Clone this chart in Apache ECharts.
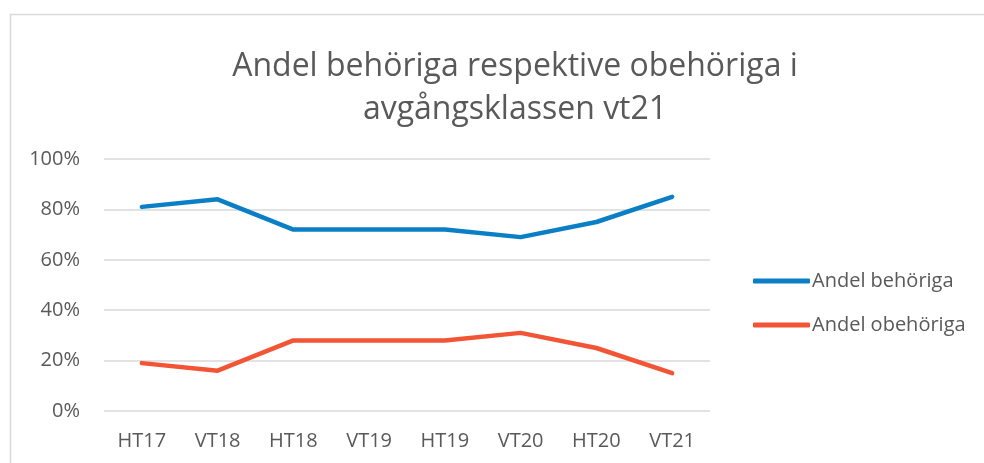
<!DOCTYPE html>
<html>
<head>
<meta charset="utf-8">
<script src="https://cdn.jsdelivr.net/npm/echarts@6/dist/echarts.min.js"></script>
<style>
  html, body { margin: 0; padding: 0; background: #fff; }
  #chart { width: 984px; height: 463px; }
</style>
</head>
<body>
<div id="chart"></div>
<script>
// terminer
const categories = ['HT17', 'VT18', 'HT18', 'VT19', 'HT19', 'VT20', 'HT20', 'VT21'];
// andelar i procent
const behoriga = [81, 84, 72, 72, 72, 69, 75, 85];
const obehoriga = [19, 16, 28, 28, 28, 31, 25, 15];
const yTicks = [0, 20, 40, 60, 80, 100];

const textColor = '#595959';
const fontName = 'Open Sans';

const chart = echarts.init(document.getElementById('chart'));
chart.setOption({
  animation: false,
  title: {
    text: 'Andel behöriga respektive obehöriga i\navgångsklassen vt21',
    left: 510,
    top: 40,
    textAlign: 'center',
    textStyle: {
      color: textColor,
      fontFamily: fontName,
      fontWeight: 'normal',
      fontSize: 32,
      lineHeight: 43,
    },
  },
  // ram runt diagrammet
  graphic: [
    {
      type: 'rect',
      shape: { x: 10.5, y: 14.5, width: 1000, height: 500 },
      style: { fill: 'none', stroke: '#d9d9d9', lineWidth: 1.5 },
      silent: true,
    },
  ],
  legend: {
    orient: 'vertical',
    left: 748,
    top: 266,
    itemWidth: 57,
    itemHeight: 5,
    itemGap: 24,
    icon: 'roundRect',
    textStyle: {
      color: textColor,
      fontFamily: fontName,
      fontSize: 20,
      padding: [0, 0, 0, -3],
    },
    data: ['Andel behöriga', 'Andel obehöriga'],
  },
  grid: {
    left: 104,
    right: 274,
    top: 159,
    bottom: 52,
    containLabel: false,
  },
  xAxis: {
    type: 'category',
    data: categories,
    boundaryGap: true,
    axisLine: { show: false },
    axisTick: { show: false },
    axisLabel: {
      color: textColor,
      fontFamily: fontName,
      fontSize: 20,
      margin: 20,
    },
  },
  yAxis: {
    type: 'value',
    min: yTicks[0],
    max: yTicks[yTicks.length - 1],
    interval: 20,
    axisLine: { show: false },
    axisTick: { show: false },
    axisLabel: {
      color: textColor,
      fontFamily: fontName,
      fontSize: 20,
      margin: 24,
      formatter: '{value}%',
    },
    splitLine: { lineStyle: { color: '#d9d9d9', width: 1.5 } },
  },
  series: [
    {
      name: 'Andel behöriga',
      type: 'line',
      data: behoriga,
      symbol: 'none',
      color: '#0a7fc6',
      lineStyle: { width: 4.5, cap: 'round', join: 'round' },
    },
    {
      name: 'Andel obehöriga',
      type: 'line',
      data: obehoriga,
      symbol: 'none',
      color: '#f15535',
      lineStyle: { width: 4.5, cap: 'round', join: 'round' },
    },
  ],
});
</script>
</body>
</html>
